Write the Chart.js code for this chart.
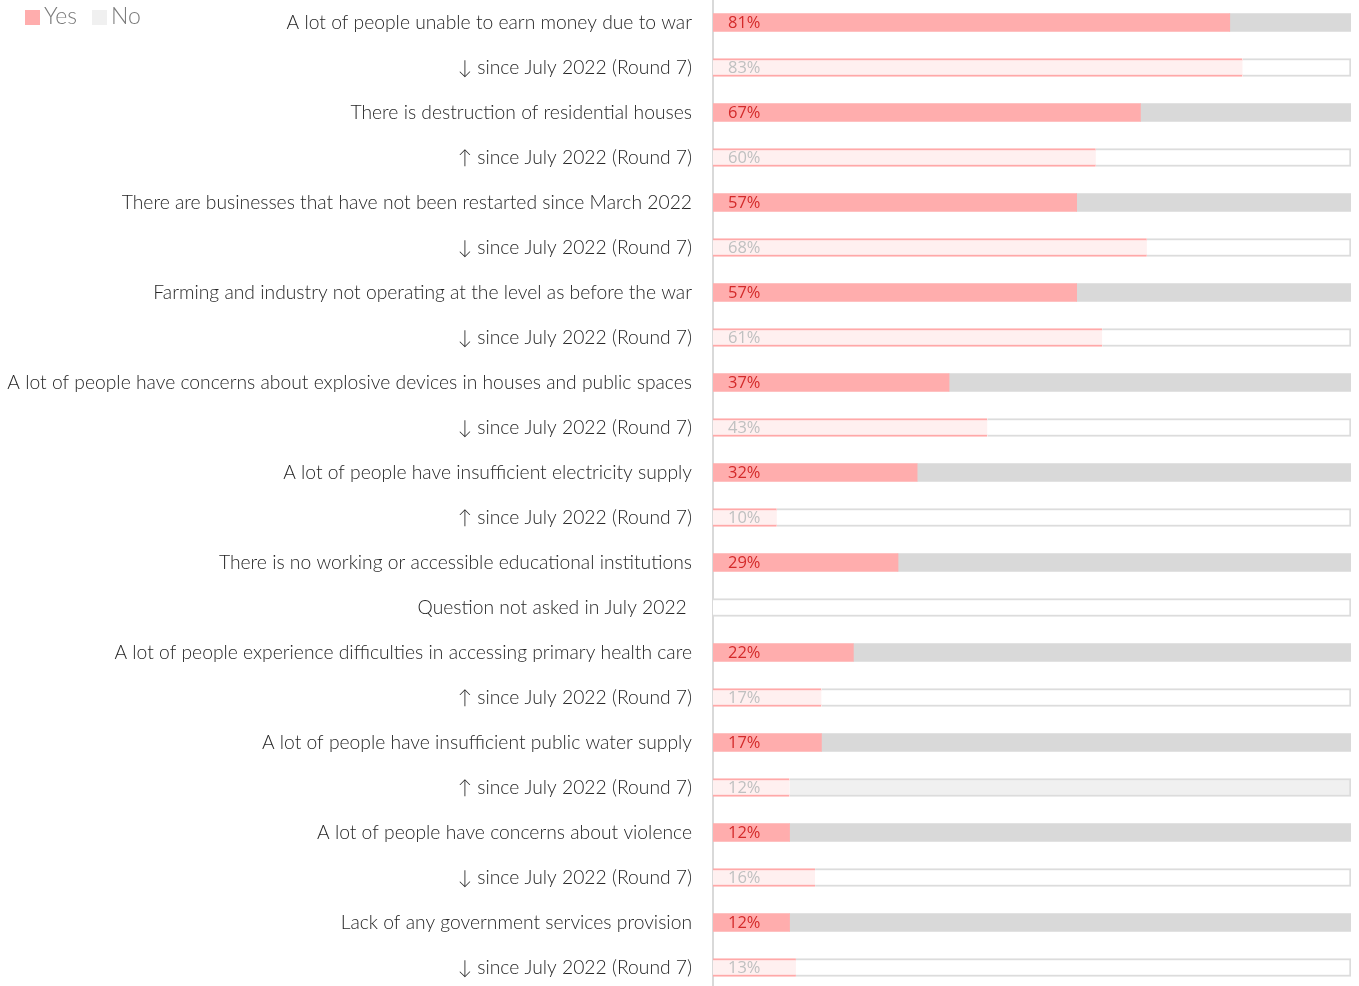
<!DOCTYPE html>
<html>
<head>
<meta charset="utf-8">
<script src="https://cdn.jsdelivr.net/npm/chart.js@4/dist/chart.umd.min.js"></script>
<style>
  html, body { margin: 0; padding: 0; background: #fff; overflow: hidden; }
  #wrap { position: relative; width: 1359px; height: 990px; }
</style>
</head>
<body>
<div id="wrap"><canvas id="chart"></canvas></div>
<script>
// Row labels: each question followed by its comparison with July 2022 (Round 7)
const tickLabels = [
  "A lot of people unable to earn money due to war",
  "↓ since July 2022 (Round 7)",
  "There is destruction of residential houses",
  "↑ since July 2022 (Round 7)",
  "There are businesses that have not been restarted since March 2022",
  "↓ since July 2022 (Round 7)",
  "Farming and industry not operating at the level as before the war",
  "↓ since July 2022 (Round 7)",
  "A lot of people have concerns about explosive devices in houses and public spaces",
  "↓ since July 2022 (Round 7)",
  "A lot of people have insufficient electricity supply",
  "↑ since July 2022 (Round 7)",
  "There is no working or accessible educational institutions",
  "Question not asked in July 2022 ",
  "A lot of people experience difficulties in accessing primary health care",
  "↑ since July 2022 (Round 7)",
  "A lot of people have insufficient public water supply",
  "↑ since July 2022 (Round 7)",
  "A lot of people have concerns about violence",
  "↓ since July 2022 (Round 7)",
  "Lack of any government services provision",
  "↓ since July 2022 (Round 7)"
];

// Share answering "Yes" (%), current round
const yesCurrent = [81, 67, 57, 57, 37, 32, 29, 22, 17, 12, 12];
// Share answering "Yes" (%), July 2022 (Round 7); null = not asked
const yesJuly = [83, 60, 68, 61, 43, 10, null, 17, 12, 16, 13];

const seriesNames = ["Yes", "No"];

// Interleave current and July values, one row each
const yesValues = [];
const isJuly = [];
yesCurrent.forEach((v, i) => {
  yesValues.push(v); isJuly.push(false);
  yesValues.push(yesJuly[i]); isJuly.push(true);
});
// "No" fills the rest of the row; an unasked row is an empty frame
const noValues = yesValues.map(v => v === null ? 100 : 100 - v);

const PINK = '#ffadad';
const PINK_LIGHT = '#fff0f0';
const GREY = '#d9d9d9';
const GREY_LIGHT = '#f0f0f0';

const yesBg = isJuly.map(j => j ? PINK_LIGHT : PINK);
const yesBorder = isJuly.map(j => j ? '#ffa8a8' : 'rgba(0,0,0,0)');
const yesBw = isJuly.map(j => j ? { top: 2, bottom: 2, left: 0, right: 0 } : 0);
const noBg = isJuly.map((j, i) => j ? (i === 17 ? GREY_LIGHT : '#ffffff') : GREY);
const noBorder = isJuly.map(j => j ? '#dcdcdc' : 'rgba(0,0,0,0)');
const noBw = isJuly.map(j => j ? 2 : 0);

// Percentage text inside the "Yes" segment
const valueLabels = {
  id: 'valueLabels',
  afterDatasetsDraw(chart) {
    const ctx = chart.ctx;
    const meta = chart.getDatasetMeta(0);
    const left = chart.chartArea.left;
    ctx.save();
    ctx.font = '400 16.5px "Open Sans", sans-serif';
    ctx.textBaseline = 'middle';
    ctx.textAlign = 'left';
    meta.data.forEach((el, i) => {
      const v = chart.data.datasets[0].data[i];
      if (v === null || v === undefined) return;
      ctx.fillStyle = isJuly[i] ? '#c0c0c0' : '#d42a2a';
      ctx.fillText(v + '%', left + 15, el.y + 1);
    });
    ctx.restore();
  }
};

// Legend drawn in the top-left corner
const cornerLegend = {
  id: 'cornerLegend',
  afterDraw(chart) {
    const ctx = chart.ctx;
    const swatch = [PINK, GREY_LIGHT];
    const xs = [25, 92];
    ctx.save();
    ctx.font = '300 23px Lato, sans-serif';
    ctx.textBaseline = 'middle';
    ctx.textAlign = 'left';
    chart.data.datasets.forEach((ds, i) => {
      ctx.fillStyle = swatch[i];
      ctx.fillRect(xs[i], 10, 15, 15);
      ctx.fillStyle = '#7a7a7a';
      ctx.fillText(ds.label, xs[i] + 19, 17);
    });
    ctx.restore();
  }
};

new Chart(document.getElementById('chart'), {
  type: 'bar',
  data: {
    labels: tickLabels,
    datasets: [
      {
        label: seriesNames[0],
        data: yesValues,
        backgroundColor: yesBg,
        borderColor: yesBorder,
        borderWidth: yesBw,
        borderSkipped: false,
        barThickness: 18
      },
      {
        label: seriesNames[1],
        data: noValues,
        backgroundColor: noBg,
        borderColor: noBorder,
        borderWidth: noBw,
        borderSkipped: 'start',
        barThickness: 18
      }
    ]
  },
  options: {
    indexAxis: 'y',
    responsive: true,
    maintainAspectRatio: false,
    animation: false,
    layout: { padding: { top: 0, bottom: 0, left: 0, right: 8 } },
    plugins: {
      legend: { display: false },
      tooltip: { enabled: false }
    },
    scales: {
      x: {
        stacked: true,
        min: 0,
        max: 100,
        display: false
      },
      y: {
        stacked: true,
        grid: { display: false, drawTicks: false },
        border: { display: true, color: '#d9d9d9', width: 2 },
        ticks: {
          autoSkip: false,
          padding: 21,
          color: '#262626',
          font: { family: 'Lato', size: 19.3, weight: '300' }
        },
        afterFit(scale) {
          scale.width = 713;
          scale.paddingTop = 0;
          scale.paddingBottom = 0;
        }
      }
    }
  },
  plugins: [valueLabels, cornerLegend]
});
</script>
</body>
</html>
